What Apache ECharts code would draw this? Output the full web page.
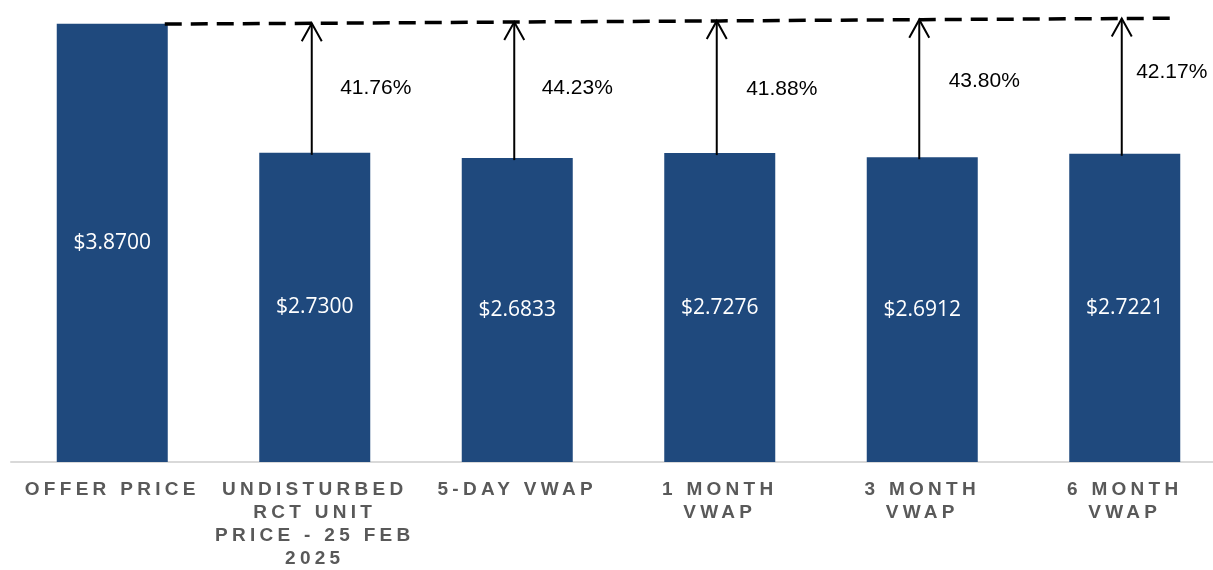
<!DOCTYPE html>
<html><head><meta charset="utf-8">
<script src="https://cdn.jsdelivr.net/npm/echarts@6/dist/echarts.min.js"></script>
<style>html,body{margin:0;padding:0;background:#fff;overflow:hidden}#c{width:1226px;height:570px}</style>
</head><body><div id="c"></div>
<script>
// ---- data ----
const categories = ['OFFER PRICE', 'UNDISTURBED\nRCT UNIT\nPRICE - 25 FEB\n2025', '5-DAY VWAP', '1 MONTH\nVWAP', '3 MONTH\nVWAP', '6 MONTH\nVWAP'];
const prices = [3.87, 2.73, 2.6833, 2.7276, 2.6912, 2.7221];
const priceLabels = ['$3.8700', '$2.7300', '$2.6833', '$2.7276', '$2.6912', '$2.7221'];
const premiums = ['', '41.76%', '44.23%', '41.88%', '43.80%', '42.17%'];
const offerLineLevels = [3.864, 3.874, 3.885, 3.895, 3.906, 3.916];

// ---- styling ----
const BAR_W = 111;
const BAR_COLOR = '#1F497D';
const premiumLabelOffsets = [null, [61, 65], [60, 66], [62, 68], [62, 62], [47, 54]];
const CAT_LETTER_SPACING = '4.3px';

// letter spacing for the category labels (canvas letterSpacing)
(function () {
  const proto = CanvasRenderingContext2D.prototype;
  const orig = proto.fillText;
  proto.fillText = function (t, x, y, w) {
    const spaced = /bold/.test(this.font) && /Liberation Sans/.test(this.font);
    if ('letterSpacing' in this) this.letterSpacing = spaced ? CAT_LETTER_SPACING : '0px';
    return w === undefined ? orig.call(this, t, x, y) : orig.call(this, t, x, y, w);
  };
})();

function renderOverlay(params, api) {
  const i = params.dataIndex;
  const children = [];
  if (i === 0) {
    const pts = offerLineLevels.map((v, k) => api.coord([k, v]));
    const half = BAR_W / 2;
    const a0 = pts[0], a1 = pts[1];
    const sA = (a1[1] - a0[1]) / (a1[0] - a0[0]);
    const start = [a0[0] + half - 3, a0[1] + sA * (half - 3)];
    const n = pts.length - 1;
    const b0 = pts[n - 1], b1 = pts[n];
    const sB = (b1[1] - b0[1]) / (b1[0] - b0[0]);
    const end = [b1[0] + half - 2, b1[1] + sB * (half - 2)];
    children.push({
      type: 'polyline',
      shape: { points: [start].concat(pts.slice(1), [end]) },
      style: { stroke: '#000', lineWidth: 3.5, lineDash: [17, 9], fill: null }
    });
    return { type: 'group', children: children };
  }
  const tip = api.coord([i, api.value(2)]);
  const base = api.coord([i, api.value(1)]);
  const x = tip[0] - 3;
  children.push({
    type: 'line',
    shape: { x1: x, y1: base[1] + 2, x2: x, y2: tip[1] },
    style: { stroke: '#000', lineWidth: 2 }
  });
  children.push({
    type: 'polyline',
    shape: { points: [[x - 10, tip[1] + 18], [x, tip[1]], [x + 10, tip[1] + 18]] },
    style: { stroke: '#000', lineWidth: 2, fill: null }
  });
  const off = premiumLabelOffsets[i];
  children.push({
    type: 'text',
    x: tip[0] + off[0],
    y: tip[1] + off[1],
    style: {
      text: premiums[i], fill: '#000', font: '21px Arial',
      align: 'center', verticalAlign: 'middle'
    }
  });
  return { type: 'group', children: children };
}

const chart = echarts.init(document.getElementById('c'), null, { renderer: 'canvas' });
chart.setOption({
  animation: false,
  backgroundColor: '#fff',
  grid: { left: 11, right: 0, top: 9, bottom: 106.5, containLabel: false },
  xAxis: {
    type: 'category',
    data: categories,
    boundaryGap: true,
    axisLine: { show: true, lineStyle: { color: '#d9d9d9', width: 2 } },
    axisTick: { show: false },
    splitLine: { show: false },
    axisLabel: {
      interval: 0, color: '#595959', fontWeight: 'bold', fontSize: 19,
      fontFamily: 'Liberation Sans', lineHeight: 23, margin: 16
    }
  },
  yAxis: { type: 'value', min: 0, max: 4, show: false, splitLine: { show: false } },
  series: [
    {
      type: 'bar',
      data: prices,
      barWidth: BAR_W,
      itemStyle: { color: BAR_COLOR },
      label: {
        show: true, position: 'inside', color: '#fff', fontSize: 21,
        fontFamily: 'Open Sans',
        formatter: p => priceLabels[p.dataIndex]
      }
    },
    {
      type: 'custom',
      clip: false,
      renderItem: renderOverlay,
      data: categories.map((c, i) => [i, prices[i], offerLineLevels[i]]),
      z: 5
    }
  ]
});
</script>
</body></html>
